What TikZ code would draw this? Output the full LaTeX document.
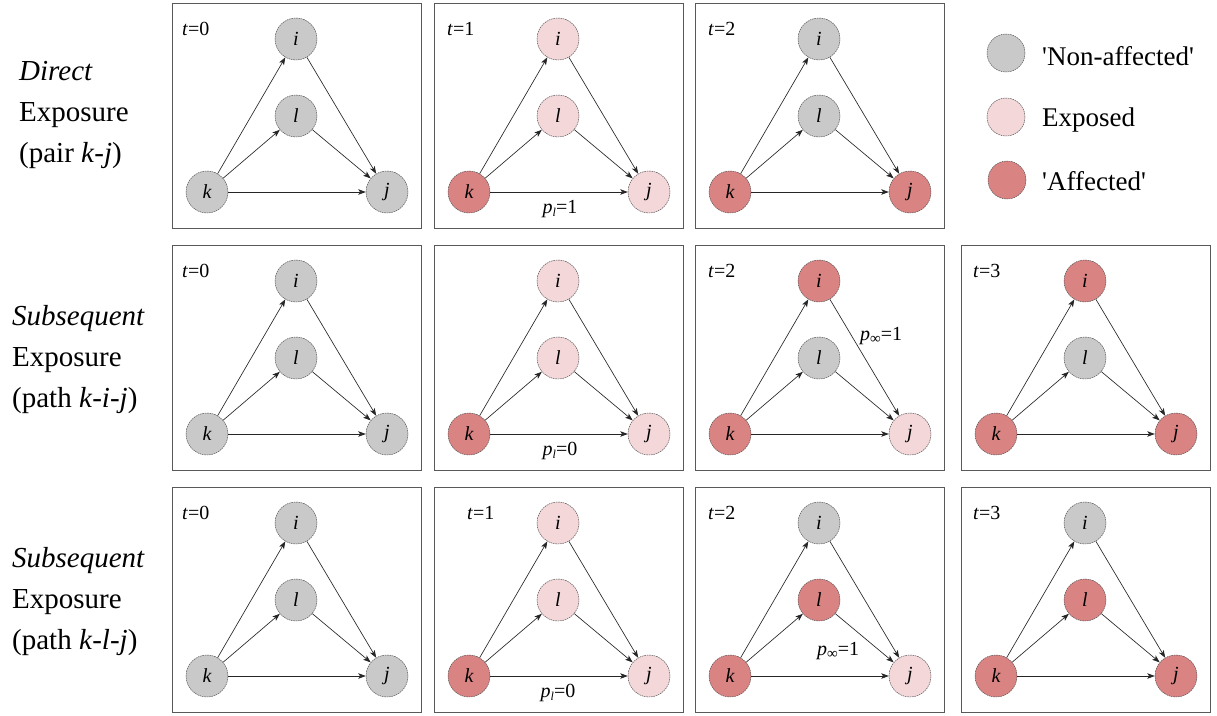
\documentclass[tikz,border=0pt]{standalone}
\usepackage{fontspec}
\setmainfont{Liberation Serif}
\usetikzlibrary{arrows.meta}
\definecolor{cgray}{RGB}{201,201,201}
\definecolor{cexp}{RGB}{243,215,217}
\definecolor{caff}{RGB}{218,131,131}
\tikzset{
 nd/.style={circle, minimum size=42pt, inner sep=0pt, draw=black!70, line width=0.45pt, dash pattern=on 1.6pt off 0.8pt, font=\fontsize{20}{24}\selectfont\itshape},
 lg/.style={nd, minimum size=38pt},
 ar/.style={-{Stealth[length=7.5pt,width=5.5pt,inset=1.8pt]}, line width=0.65pt, draw=black!85},
 frame/.style={draw=black!65, line width=0.8pt, minimum width=249pt, minimum height=225pt, anchor=north west, inner sep=0pt},
 tlab/.style={anchor=base west, font=\fontsize{20}{22}\selectfont, inner sep=0pt},
 plab/.style={font=\fontsize{20}{22}\selectfont, inner sep=0pt},
 side/.style={anchor=west, align=left, font=\fontsize{29}{41}\selectfont, inner sep=0pt},
 leg/.style={anchor=base west, font=\fontsize{27}{30}\selectfont, inner sep=0pt}
}
\newcommand\mypanel[7]{%
 \node[frame] (#3f) at (#1,#2) {};
 \node[nd, fill=#4] (#3i) at (#1+124,#2+36) {i};
 \node[nd, fill=#5] (#3l) at (#1+124,#2+113) {l};
 \node[nd, fill=#6] (#3k) at (#1+35,#2+189) {k};
 \node[nd, fill=#7] (#3j) at (#1+215,#2+189) {j};
 \draw[ar] (#3k) -- (#3i);
 \draw[ar] (#3k) -- (#3l);
 \draw[ar] (#3k) -- (#3j);
 \draw[ar] (#3i) -- (#3j);
 \draw[ar] (#3l) -- (#3j);
}
\newcommand\plsub[1]{\textit{p}\raisebox{-3pt}{\fontsize{12}{12}\selectfont\textit{l}}=#1}
\newcommand\pinf{\textit{p}\raisebox{-3pt}{\fontsize{15}{15}\selectfont ∞}=1}
\begin{document}
\begin{tikzpicture}[x=1pt,y=-1pt]
\useasboundingbox[fill=white] (0,0) rectangle (1217,715);
% row 1
\node[side] (s1) at (19,115) {\textit{Direct}\\Exposure\\(pair \textit{k}-\textit{j})};
\mypanel{172}{3}{a}{cgray}{cgray}{cgray}{cgray}
\node[tlab] (ta) at (182,35) {\textit{t}=0};
\mypanel{434}{3}{b}{cexp}{cexp}{caff}{cexp}
\node[tlab] (tb) at (447,35) {\textit{t}=1};
\node[plab, anchor=base] (pb) at (560,213) {\plsub{1}};
\mypanel{695}{3}{c}{cgray}{cgray}{caff}{caff}
\node[tlab] (tc) at (708,35) {\textit{t}=2};
% legend
\node[lg, fill=cgray] (l1) at (1006,53) {};
\node[leg] (lt1) at (1042,65) {\textquotesingle Non-affected\textquotesingle};
\node[lg, fill=cexp] (l2) at (1006,117) {};
\node[leg] (lt2) at (1042,126) {Exposed};
\node[lg, fill=caff] (l3) at (1007,180) {};
\node[leg] (lt3) at (1042,190) {\textquotesingle Affected\textquotesingle};
% row 2
\node[side] (s2) at (12,360) {\textit{Subsequent}\\Exposure\\(path \textit{k}-\textit{i}-\textit{j})};
\mypanel{172}{245}{d}{cgray}{cgray}{cgray}{cgray}
\node[tlab] (td) at (182,277) {\textit{t}=0};
\mypanel{434}{245}{e}{cexp}{cexp}{caff}{cexp}
\node[plab, anchor=base] (pe) at (560,455) {\plsub{0}};
\mypanel{695}{245}{f}{caff}{cgray}{caff}{cexp}
\node[tlab] (tf) at (708,277) {\textit{t}=2};
\node[plab, anchor=base west] (pf) at (860,340) {\pinf};
\mypanel{961}{245}{g}{caff}{cgray}{caff}{caff}
\node[tlab] (tg) at (973,277) {\textit{t}=3};
% row 3
\node[side] (s3) at (12,602) {\textit{Subsequent}\\Exposure\\(path \textit{k}-\textit{l}-\textit{j})};
\mypanel{172}{487}{m}{cgray}{cgray}{cgray}{cgray}
\node[tlab] (tm) at (182,519) {\textit{t}=0};
\mypanel{434}{487}{n}{cexp}{cexp}{caff}{cexp}
\node[tlab] (tn) at (467,519) {\textit{t}=1};
\node[plab, anchor=base] (pn) at (558,697) {\plsub{0}};
\mypanel{695}{487}{o}{cgray}{caff}{caff}{cexp}
\node[tlab] (to) at (708,519) {\textit{t}=2};
\node[plab, anchor=base west] (po) at (817,655) {\pinf};
\mypanel{961}{487}{q}{cgray}{caff}{caff}{caff}
\node[tlab] (tq) at (973,519) {\textit{t}=3};
\end{tikzpicture}
\end{document}
